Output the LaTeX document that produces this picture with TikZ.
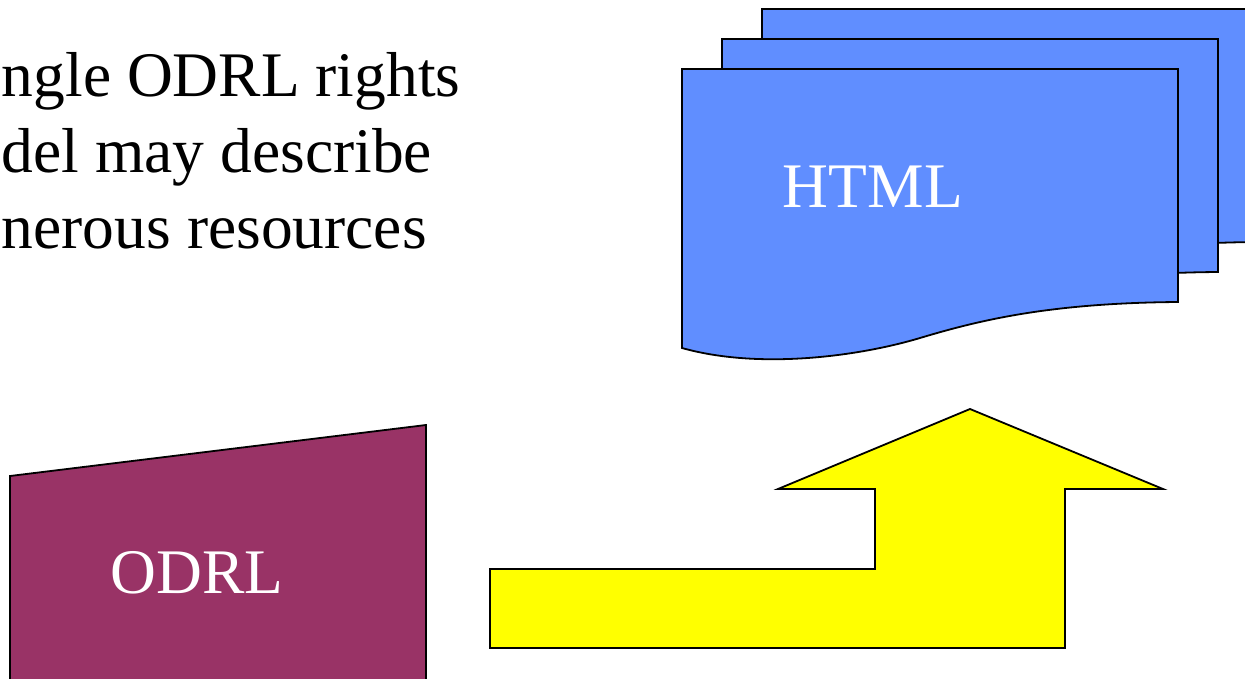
\documentclass[tikz,border=0pt]{standalone}
\usepackage{fontspec}
\setmainfont{Liberation Serif}
\definecolor{htmlblue}{RGB}{96,142,255}
\definecolor{odrlplum}{RGB}{153,51,102}
\definecolor{arrowyellow}{RGB}{255,255,0}
\begin{document}
\begin{tikzpicture}[x=1pt,y=-1pt,line width=1.8pt,line join=miter,
  every node/.style={inner sep=0pt, font=\fontsize{63.5}{76}\selectfont},
  page/.style={draw, fill=htmlblue},
  whitetext/.style={text=white, anchor=base west}]
\clip (0,0) rectangle (1245,679);
\node[anchor=base west] (line1) at (1,97) {ngle ODRL rights};
\node[anchor=base west] (line2) at (1,173) {del may describe};
\node[anchor=base west] (line3) at (1,248) {nerous resources};
% stack of html pages, back one first
\foreach \dx/\dy in {80/-60, 40/-30, 0/0}
  \draw[page, shift={(\dx,\dy)}] (682,69) -- (1178,69) -- (1178,302)
    .. controls (1050,303) and (980,320) .. (920,338)
    .. controls (860,356) and (760,370) .. (682,348) -- cycle;
\node[whitetext] (html) at (782,208) {HTML};
\draw[fill=odrlplum] (10,476) -- (426,425) -- (426,700) -- (10,700) -- cycle;
\node[whitetext] (odrl) at (110,593) {ODRL};
\draw[fill=arrowyellow] (490,648) -- (490,569) -- (875,569) -- (875,489) -- (778,489)
  -- (970,409) -- (1163,489) -- (1065,489) -- (1065,648) -- cycle;
\end{tikzpicture}
\end{document}
